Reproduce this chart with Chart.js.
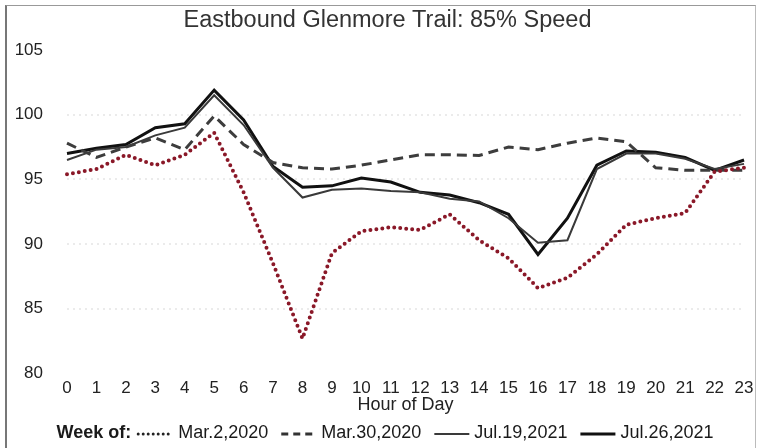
<!DOCTYPE html>
<html>
<head>
<meta charset="utf-8">
<script src="https://cdn.jsdelivr.net/npm/chart.js@4/dist/chart.umd.min.js"></script>
<style>
  html, body { margin: 0; padding: 0; background: #fff; }
  #wrap { position: relative; width: 760px; height: 448px; }
  #frame { position: absolute; left: 5px; top: 5px; width: 751px; height: 443px;
           border-left: 2px solid #777; border-top: 1px solid #999; border-right: 1px solid #bbb;
           box-sizing: border-box; pointer-events: none; }
  canvas { display: block; }
</style>
</head>
<body>
<div id="wrap">
  <canvas id="c" width="760" height="448"></canvas>
  <div id="frame"></div>
</div>
<script>
const chartTitle = 'Eastbound Glenmore Trail: 85% Speed';
const xTitle = 'Hour of Day';
const legendPrefix = 'Week of:';
const hours = ['0','1','2','3','4','5','6','7','8','9','10','11','12','13','14','15','16','17','18','19','20','21','22','23'];
const yTicks = [80, 85, 90, 95, 100, 105];
const seriesNames = ['Mar.2,2020', 'Mar.30,2020', 'Jul.19,2021', 'Jul.26,2021'];
const mar2 = [95.4, 95.8, 96.9, 96.1, 96.9, 98.6, 94.0, 88.5, 82.7, 89.3, 91.0, 91.3, 91.1, 92.3, 90.3, 88.9, 86.6, 87.4, 89.2, 91.5, 92.0, 92.4, 95.6, 95.9];
const mar30 = [97.8, 96.7, 97.5, 98.2, 97.3, 99.9, 97.7, 96.3, 95.9, 95.8, 96.1, 96.5, 96.9, 96.9, 96.85, 97.5, 97.3, 97.8, 98.2, 97.9, 95.9, 95.7, 95.7, 95.7];
const jul19 = [96.5, 97.3, 97.5, 98.4, 99.0, 101.5, 99.2, 95.9, 93.6, 94.2, 94.3, 94.1, 94.0, 93.5, 93.3, 92.0, 90.1, 90.3, 95.8, 97.0, 97.0, 96.6, 95.8, 96.2];
const jul26 = [97.0, 97.4, 97.7, 99.0, 99.3, 101.9, 99.6, 96.0, 94.4, 94.5, 95.1, 94.8, 94.0, 93.8, 93.2, 92.3, 89.2, 92.0, 96.1, 97.2, 97.1, 96.7, 95.7, 96.5];

const FONT = "'Liberation Sans', Arial, sans-serif";

// shift the title block so it is centred like the original (slightly right of canvas centre)
const titleShift = {
  id: 'titleShift',
  afterLayout(chart) {
    if (chart.titleBlock) { chart.titleBlock.left += 26; }
  }
};

const weekLegend = {
  id: 'weekLegend',
  afterDraw(chart) {
    const ctx = chart.ctx;
    const y = chart.scales.x.bottom + 19;
    const sample = 37, gap = 5, itemGap = 6;
    ctx.save();
    ctx.textBaseline = 'middle';
    ctx.font = "bold 18px " + FONT;
    const prefW = ctx.measureText(legendPrefix).width;
    ctx.font = "18px " + FONT;
    let total = prefW;
    chart.data.datasets.forEach(ds => { total += gap + sample + gap + ctx.measureText(ds.label).width + itemGap; });
    total -= itemGap;
    let x = (chart.width - total) / 2 + 5;
    ctx.fillStyle = '#1a1a1a';
    ctx.font = "bold 18px " + FONT;
    ctx.fillText(legendPrefix, x, y);
    x += prefW;
    ctx.font = "18px " + FONT;
    chart.data.datasets.forEach(ds => {
      x += gap;
      ctx.beginPath();
      ctx.strokeStyle = ds.legendColor || ds.borderColor;
      ctx.lineWidth = ds.legendWidth || ds.borderWidth;
      ctx.lineCap = ds.borderCapStyle || 'butt';
      ctx.setLineDash(ds.legendDash || ds.borderDash || []);
      ctx.moveTo(x + 2, y + 1);
      ctx.lineTo(x + sample, y + 1);
      ctx.stroke();
      ctx.setLineDash([]);
      x += sample + gap;
      ctx.fillStyle = '#1a1a1a';
      ctx.fillText(ds.label, x, y);
      x += ctx.measureText(ds.label).width + itemGap;
    });
    ctx.restore();
  }
};

new Chart(document.getElementById('c'), {
  type: 'line',
  data: {
    labels: hours,
    datasets: [
      { label: seriesNames[0], data: mar2, borderColor: '#8a1828', borderWidth: 4, borderDash: [0, 6], borderCapStyle: 'round',
        legendColor: '#222', legendWidth: 3, legendDash: [0, 5], pointRadius: 0, tension: 0, fill: false },
      { label: seriesNames[1], data: mar30, borderColor: '#3d3d3d', borderWidth: 3, borderDash: [10, 6],
        legendColor: '#333', legendWidth: 3, legendDash: [7, 5], pointRadius: 0, tension: 0, fill: false },
      { label: seriesNames[2], data: jul19, borderColor: '#3a3a3a', borderWidth: 2, pointRadius: 0, tension: 0, fill: false },
      { label: seriesNames[3], data: jul26, borderColor: '#111', borderWidth: 3, pointRadius: 0, tension: 0, fill: false }
    ]
  },
  options: {
    responsive: false,
    animation: false,
    devicePixelRatio: 1,
    layout: { padding: { top: 5, right: 11, bottom: 34, left: 0 } },
    plugins: {
      legend: { display: false },
      tooltip: { enabled: false },
      title: { display: true, text: chartTitle, color: '#333',
               font: { family: FONT, size: 23.5, weight: 'normal', lineHeight: 1.2 },
               padding: { top: 1, bottom: 15.8 } }
    },
    scales: {
      x: {
        offset: false,
        grid: { display: false, drawTicks: false },
        border: { display: false },
        ticks: { color: '#222', font: { family: FONT, size: 17, lineHeight: 1.0 }, padding: 6.5, maxRotation: 0, autoSkip: false },
        title: { display: true, text: xTitle, color: '#222', font: { family: FONT, size: 18, lineHeight: 1.0 }, padding: { top: -7.5, bottom: 0 } }
      },
      y: {
        min: 80, max: 105,
        afterFit: (scale) => { scale.width = 67; },
        afterBuildTicks: (scale) => { scale.ticks = yTicks.map(v => ({ value: v })); },
        grid: {
          drawTicks: false,
          color: (c) => (c.tick && (c.tick.value === 80 || c.tick.value === 105)) ? 'rgba(0,0,0,0)' : 'rgba(0,0,0,0.08)',
          lineWidth: 2
        },
        border: { display: false, dash: [2, 4] },
        ticks: { color: '#222', font: { family: FONT, size: 17 }, padding: 24 }
      }
    }
  },
  plugins: [titleShift, weekLegend]
});
</script>
</body>
</html>
